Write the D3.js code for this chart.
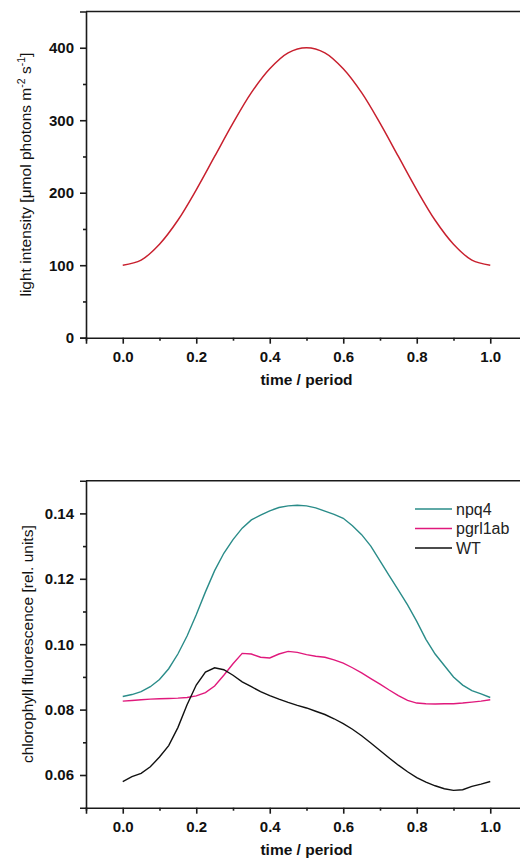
<!DOCTYPE html>
<html>
<head>
<meta charset="utf-8">
<script src="https://d3js.org/d3.v7.min.js"></script>
<style>
  body { margin: 0; background: #fff; }
  svg { display: block; font-family: Arial, "Liberation Sans", sans-serif; }
</style>
</head>
<body>
<script>
// time axis (fraction of the period), shared by both panels
var lightTime = [0, 0.05, 0.1, 0.15, 0.2, 0.25, 0.3, 0.35, 0.4, 0.45, 0.5,
                 0.55, 0.6, 0.65, 0.7, 0.75, 0.8, 0.85, 0.9, 0.95, 1.0];
var lightValues = [100, 107, 129, 162, 204, 250, 296, 338, 371, 393, 400,
                   393, 371, 338, 296, 250, 204, 162, 129, 107, 100];

var fluoTime = [0, 0.025, 0.05, 0.075, 0.1, 0.125, 0.15, 0.175, 0.2, 0.225, 0.25,
                0.275, 0.3, 0.325, 0.35, 0.375, 0.4, 0.425, 0.45, 0.475, 0.5,
                0.525, 0.55, 0.575, 0.6, 0.625, 0.65, 0.675, 0.7, 0.725, 0.75,
                0.775, 0.8, 0.825, 0.85, 0.875, 0.9, 0.925, 0.95, 0.975, 1.0];
var npq4 = [0.0840, 0.0846, 0.0855, 0.0870, 0.0892, 0.0925, 0.0970, 0.1025, 0.1090, 0.1160, 0.1225,
            0.1278, 0.1320, 0.1355, 0.1380, 0.1395, 0.1408, 0.1418, 0.1423, 0.1425, 0.1423,
            0.1417, 0.1407, 0.1397, 0.1385, 0.1362, 0.1335, 0.1300, 0.1255, 0.1210, 0.1165,
            0.1120, 0.1070, 0.1015, 0.0970, 0.0935, 0.0900, 0.0875, 0.0858, 0.0848, 0.0837];
var pgrl1ab = [0.0826, 0.0828, 0.0830, 0.0832, 0.0833, 0.0834, 0.0835, 0.0837, 0.0842, 0.0852, 0.0872,
               0.0905, 0.0940, 0.0972, 0.0970, 0.0960, 0.0958, 0.0970, 0.0978, 0.0975, 0.0968,
               0.0963, 0.0960, 0.0952, 0.0942, 0.0928, 0.0912, 0.0895, 0.0878, 0.0860, 0.0843,
               0.0828, 0.0820, 0.0818, 0.0817, 0.0818, 0.0818, 0.0820, 0.0823, 0.0826, 0.0830];
var wt = [0.0580, 0.0595, 0.0605, 0.0625, 0.0655, 0.0690, 0.0745, 0.0815, 0.0875, 0.0915, 0.0928,
          0.0922, 0.0905, 0.0885, 0.0870, 0.0855, 0.0843, 0.0832, 0.0822, 0.0813, 0.0805,
          0.0795, 0.0785, 0.0772, 0.0757, 0.0740, 0.0720, 0.0698, 0.0675, 0.0652, 0.0630,
          0.0610, 0.0592, 0.0578, 0.0567, 0.0558, 0.0553, 0.0555, 0.0565, 0.0572, 0.0580];

var seriesNames = ["npq4", "pgrl1ab", "WT"];
var seriesColors = ["#2a8c89", "#e0197c", "#111111"];

var xMajor = [0, 0.2, 0.4, 0.6, 0.8, 1.0];
var xMinor = [-0.1, 0.1, 0.3, 0.5, 0.7, 0.9];
var lightMajor = [0, 100, 200, 300, 400];
var lightMinor = [50, 150, 250, 350];
var fluoMajor = [0.06, 0.08, 0.10, 0.12, 0.14];
var fluoMinor = [0.07, 0.09, 0.11, 0.13];

var W = 520, H = 859;
var svg = d3.select("body").append("svg").attr("width", W).attr("height", H);

var axisColor = "#1a1a1a";
var left = 86, right = 527; // right frame lies outside the picture

function panel(top, bottom, yDomain, major, minor, fmt) {
  var x = d3.scaleLinear().domain([-0.1, 1.1]).range([left, right]);
  var y = d3.scaleLinear().domain(yDomain).range([bottom, top]);
  var g = svg.append("g");

  // top frame line
  g.append("line").attr("x1", left).attr("x2", right).attr("y1", top).attr("y2", top)
    .attr("stroke", axisColor).attr("stroke-width", 1.6);

  // x axis
  g.append("g").attr("transform", "translate(0," + bottom + ")")
    .call(d3.axisBottom(x).tickValues(xMajor).tickSize(6).tickPadding(8).tickFormat(d3.format(".1f")));
  g.append("g").attr("transform", "translate(0," + bottom + ")")
    .call(d3.axisBottom(x).tickValues(xMinor).tickSize(3).tickFormat(""))
    .select(".domain").remove();

  // y axis
  g.append("g").attr("transform", "translate(" + left + ",0)")
    .call(d3.axisLeft(y).tickValues(major).tickSize(6).tickPadding(6).tickFormat(fmt));
  g.append("g").attr("transform", "translate(" + left + ",0)")
    .call(d3.axisLeft(y).tickValues(minor).tickSize(3).tickFormat(""))
    .select(".domain").remove();

  g.selectAll(".domain").attr("stroke", axisColor).attr("stroke-width", 1.6);
  g.selectAll(".tick line").attr("stroke", axisColor).attr("stroke-width", 1.6);
  g.selectAll(".tick text").attr("fill", "#111").attr("font-size", "15px")
    .attr("font-weight", "bold").attr("font-family", "Arial, 'Liberation Sans', sans-serif");

  // x title
  g.append("text").attr("x", x(0.5)).attr("y", bottom + 47)
    .attr("text-anchor", "middle").attr("font-size", "15.5px").attr("font-weight", "bold")
    .attr("fill", "#111").text("time / period");

  return {x: x, y: y, g: g};
}

// ---- top panel: light intensity ----
var p1 = panel(11.5, 337.7, [0, 450], lightMajor, lightMinor, d3.format("d"));

var lightLine = d3.line()
  .x(function(d, i) { return p1.x(lightTime[i]); })
  .y(function(d) { return p1.y(d); })
  .curve(d3.curveCatmullRom);
p1.g.append("path").datum(lightValues).attr("d", lightLine)
  .attr("fill", "none").attr("stroke", "#c8202e").attr("stroke-width", 1.5);

var t1 = p1.g.append("text")
  .attr("transform", "translate(31," + ((11.5 + 337.7) / 2) + ") rotate(-90)")
  .attr("text-anchor", "middle").attr("font-size", "15.5px").attr("fill", "#111");
t1.append("tspan").text("light intensity [\u03bcmol photons m");
t1.append("tspan").attr("dy", -6).attr("font-size", "10.5px").text("-2");
t1.append("tspan").attr("dy", 6).text(" s");
t1.append("tspan").attr("dy", -6).attr("font-size", "10.5px").text("-1");
t1.append("tspan").attr("dy", 6).text("]");

// ---- bottom panel: chlorophyll fluorescence ----
var p2 = panel(480.7, 807.7, [0.05, 0.15], fluoMajor, fluoMinor, d3.format(".2f"));

var allSeries = [npq4, pgrl1ab, wt];
var fluoLine = d3.line()
  .x(function(d, i) { return p2.x(fluoTime[i]); })
  .y(function(d) { return p2.y(d); });

p2.g.selectAll("path.series").data(allSeries).enter().append("path")
  .attr("class", "series")
  .attr("d", fluoLine)
  .attr("fill", "none")
  .attr("stroke", function(d, i) { return seriesColors[i]; })
  .attr("stroke-width", 1.4);

p2.g.append("text")
  .attr("transform", "translate(33," + ((480.7 + 807.7) / 2) + ") rotate(-90)")
  .attr("text-anchor", "middle").attr("font-size", "15.5px").attr("fill", "#111")
  .text("chlorophyll fluorescence [rel. units]");

// legend
var legend = p2.g.append("g").attr("transform", "translate(415,509)");
var item = legend.selectAll("g").data(seriesNames).enter().append("g")
  .attr("transform", function(d, i) { return "translate(0," + (i * 19.5) + ")"; });
item.append("line").attr("x1", 0).attr("x2", 37).attr("y1", 0).attr("y2", 0)
  .attr("stroke", function(d, i) { return seriesColors[i]; }).attr("stroke-width", 1.5);
item.append("text").attr("x", 41).attr("y", 5.5).attr("font-size", "16px").attr("fill", "#222")
  .text(function(d) { return d; });
</script>
</body>
</html>
